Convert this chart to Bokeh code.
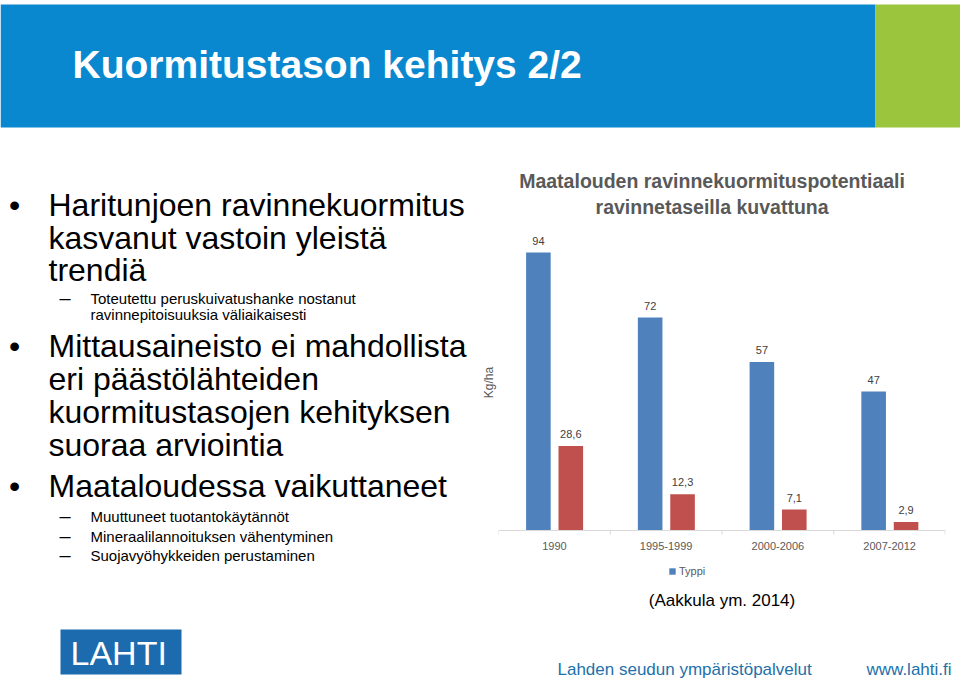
from bokeh.plotting import figure
from bokeh.models import (Range1d, FactorRange, ColumnDataSource, LinearAxis,
                          FixedTicker, Legend, LegendItem)
from bokeh.transform import dodge
from bokeh.layouts import column, row
from bokeh.embed import file_html
from bokeh.resources import INLINE
from bokeh.core.properties import value

# ---------------- data ----------------
periods = ["1990", "1995-1999", "2000-2006", "2007-2012"]
typpi = [94, 72, 57, 47]
fosfori = [28.6, 12.3, 7.1, 2.9]
legend_label = "Typpi"
chart_title = ["Maatalouden ravinnekuormituspotentiaali", "ravinnetaseilla kuvattuna"]
y_label = "Kg/ha"
source_note = "(Aakkula ym. 2014)"
slide_title = "Kuormitustason kehitys 2/2"
bullet_1 = ["Haritunjoen ravinnekuormitus", "kasvanut vastoin yleistä", "trendiä"]
sub_1 = ["Toteutettu peruskuivatushanke nostanut", "ravinnepitoisuuksia väliaikaisesti"]
bullet_2 = ["Mittausaineisto ei mahdollista", "eri päästölähteiden",
            "kuormitustasojen kehityksen", "suoraa arviointia"]
bullet_3 = ["Maataloudessa vaikuttaneet"]
sub_3 = ["Muuttuneet tuotantokäytännöt", "Mineraalilannoituksen vähentyminen",
         "Suojavyöhykkeiden perustaminen"]
footer_org = "Lahden seudun ympäristöpalvelut"
footer_url = "www.lahti.fi"
logo_text = "LAHTI"

SANS = value("Liberation Sans")


def fmt(v):
    return f"{v:g}".replace(".", ",")


def blank(width, height, x0, x1, y0, y1, top_border=0):
    return figure(width=width, height=height, x_range=Range1d(x0, x1),
                  y_range=Range1d(y1, y0), x_axis_type=None, y_axis_type=None,
                  toolbar_location=None, output_backend="svg", min_border=0,
                  min_border_top=top_border,
                  outline_line_color=None, background_fill_color="white",
                  border_fill_color="white")


# ---------------- header ----------------
header = blank(960, 128, 0, 960, 0, 128)
header.quad(left=[0], right=[875], top=[4], bottom=[127], fill_color="#0A88CF", line_color=None)
header.quad(left=[875], right=[960], top=[4], bottom=[127], fill_color="#9BC53D", line_color=None)
header.text(x=[72], y=[64], text=[slide_title], text_font=SANS, text_font_style="bold",
            text_font_size="39px", text_color="white", text_baseline="middle")

# ---------------- left text ----------------
# frame aligned with the chart's frame (top border of 16 px -> page y 144..620)
left = blank(478, 492, 0, 478, 144, 620, top_border=16)
main_lines = bullet_1 + bullet_2 + bullet_3
main_y = [204, 237, 269.5, 345.5, 378, 411, 444, 485]
left.text(x=[48] * len(main_lines), y=main_y, text=main_lines, text_font=SANS,
          text_font_size="32px", text_color="black", text_baseline="middle")
left.text(x=[8.5] * 3, y=[204, 345.5, 485], text=["•"] * 3, text_font=SANS,
          text_font_size="32px", text_color="black", text_baseline="middle")
sub_lines = sub_1 + sub_3
sub_y = [298, 313.5, 515.5, 535.5, 555]
left.text(x=[90] * len(sub_lines), y=sub_y, text=sub_lines, text_font=SANS,
          text_font_size="15px", text_color="black", text_baseline="middle")
left.text(x=[59] * 4, y=[297, 515.5, 535.5, 554.5], text=["–"] * 4, text_font=SANS,
          text_font_size="20px", text_color="black", text_baseline="middle")

# ---------------- chart ----------------
PX = 2.957      # pixels per kg/ha
BASE = 530      # page y of the zero line
TOP, BOTTOM = 144, 620


def yref(py):
    return (BASE - py) / PX


chart = figure(width=482, height=492, x_range=FactorRange(factors=periods),
               y_range=Range1d(yref(BOTTOM), yref(TOP)), x_axis_type=None, y_axis_type=None,
               toolbar_location=None, output_backend="svg", min_border_left=19,
               min_border_right=15, min_border_top=16, min_border_bottom=0,
               outline_line_color=None, background_fill_color="white",
               border_fill_color="white")

yax = LinearAxis(axis_label=y_label, ticker=FixedTicker(ticks=[]), axis_line_color=None,
                 major_tick_line_color=None, minor_tick_line_color=None,
                 axis_label_text_font_size="12px", axis_label_text_color="#595959",
                 axis_label_text_font_style="normal", axis_label_standoff=3,
                 axis_label_text_font="Liberation Sans")
chart.add_layout(yax, "left")

src = ColumnDataSource(dict(period=periods, typpi=typpi, fosfori=fosfori,
                            typpi_lbl=[fmt(v) for v in typpi],
                            fosfori_lbl=[fmt(v) for v in fosfori]))
OFF_T, OFF_F, W = -0.143, 0.147, 0.22
rt = chart.vbar(x=dodge("period", OFF_T, range=chart.x_range), top="typpi", width=W,
                source=src, fill_color="#4F81BD", line_color=None)
rf = chart.vbar(x=dodge("period", OFF_F, range=chart.x_range), top="fosfori", width=W,
                source=src, fill_color="#C0504D", line_color=None)
for off, col in ((OFF_T, "typpi"), (OFF_F, "fosfori")):
    chart.text(x=dodge("period", off, range=chart.x_range), y=col, text=col + "_lbl",
               source=src, text_align="center", text_baseline="middle", y_offset=-12,
               text_font=SANS, text_font_size="11px", text_color="#404040")

# zero line and boundary ticks
chart.segment(x0=[(periods[0], -0.5)], x1=[(periods[-1], 0.5)], y0=[0], y1=[0],
              line_color="#D9D9D9", line_width=1)
tick_x = [(p, -0.5) for p in periods] + [(periods[-1], 0.497)]
chart.segment(x0=tick_x, x1=tick_x, y0=[0] * 5, y1=[-4 / PX] * 5,
              line_color="#D9D9D9", line_width=1)

chart.text(x="period", y=0, text="period", source=src, y_offset=15, text_align="center",
           text_baseline="middle", text_font=SANS, text_font_size="11px",
           text_color="#595959")

chart.text(x=[("1995-1999", 0.411)] * 2, y=[yref(180), yref(206)], text=chart_title,
           text_align="center", text_baseline="middle", text_font=SANS,
           text_font_style="bold", text_font_size="19.5px", text_color="#595959")

chart.text(x=[("1995-1999", 0.5)], y=[yref(600)], text=[source_note], text_align="center",
           text_baseline="middle", text_font=SANS, text_font_size="17px",
           text_color="black")

legend = Legend(items=[LegendItem(label=legend_label, renderers=[rt])],
                location=(170, 43), orientation="horizontal", glyph_width=8,
                glyph_height=8, label_standoff=3, padding=0, margin=0,
                border_line_color=None, background_fill_alpha=0,
                label_text_font_size="11px", label_text_color="#595959",
                label_text_font="Liberation Sans", label_height=9)
chart.add_layout(legend)

# ---------------- footer ----------------
footer = blank(960, 66, 0, 960, 620, 686)
footer.quad(left=[60], right=[181], top=[629], bottom=[674], fill_color="#1B6BAE",
            line_color=None)
footer.text(x=[70], y=[652], text=[logo_text], text_font=SANS, text_font_size="34px",
            text_color="white", text_baseline="middle")
footer.text(x=[557, 866], y=[669, 669], text=[footer_org, footer_url], text_font=SANS,
            text_font_size="17px", text_color="#2271AA", text_baseline="middle")

layout = column(header, row(left, chart), footer)
open("out.html", "w").write(file_html(layout, INLINE))
